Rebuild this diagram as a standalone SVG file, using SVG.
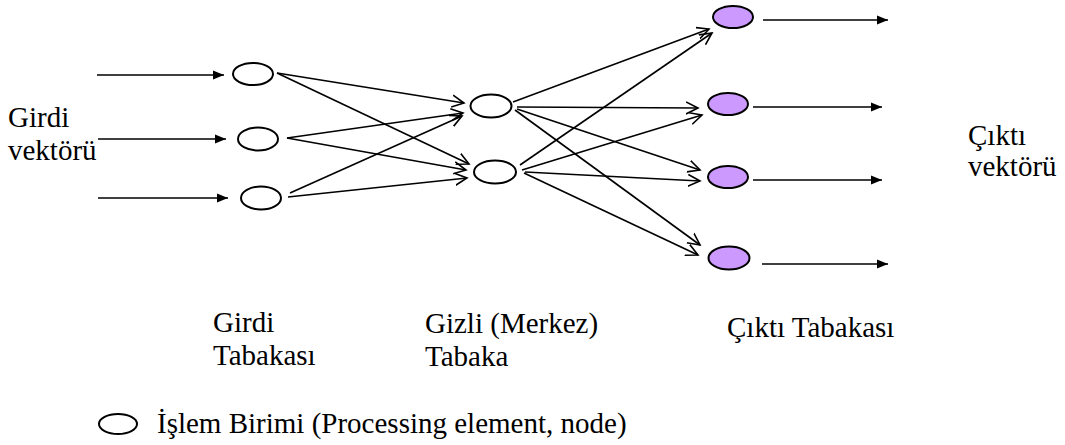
<svg xmlns="http://www.w3.org/2000/svg" width="1065" height="445" viewBox="0 0 1065 445">
<style>
.t{font-family:"Liberation Serif","Times New Roman",serif;font-size:29px;fill:#000}
.n{fill:#fff;stroke:#000;stroke-width:2}
.o{fill:#cc99ff;stroke:#000;stroke-width:2}
.v{stroke:#000;stroke-width:1.6;fill:none;marker-end:url(#fa)}
.e{stroke:#000;stroke-width:1.6;fill:none;marker-end:url(#oa)}
</style>
<defs>
<marker id="fa" markerUnits="userSpaceOnUse" markerWidth="12" markerHeight="10" refX="11" refY="5" orient="auto">
<path d="M0,0.5 L11,5 L0,9.5 z" fill="#000"/>
</marker>
<marker id="oa" markerUnits="userSpaceOnUse" markerWidth="14" markerHeight="14" refX="12" refY="7" orient="auto">
<path d="M0,1 L12,7 L0,13" fill="none" stroke="#000" stroke-width="1.6"/>
</marker>
</defs>
<g id="connectors">
<line class="v" x1="97" y1="75" x2="224" y2="75"/>
<line class="v" x1="98" y1="139" x2="226" y2="139"/>
<line class="v" x1="98" y1="198" x2="228" y2="198"/>
<line class="e" x1="277" y1="73" x2="464" y2="103"/>
<line class="e" x1="277" y1="73" x2="469" y2="164"/>
<line class="e" x1="287" y1="138" x2="463" y2="113"/>
<line class="e" x1="287" y1="138" x2="466" y2="170"/>
<line class="e" x1="290" y1="193" x2="462" y2="116"/>
<line class="e" x1="288" y1="197" x2="467" y2="178"/>
<line class="e" x1="513" y1="102" x2="709" y2="29"/>
<line class="e" x1="517" y1="107" x2="698" y2="108"/>
<line class="e" x1="517" y1="109" x2="700" y2="170"/>
<line class="e" x1="515" y1="110" x2="700" y2="245"/>
<line class="e" x1="520" y1="165" x2="712" y2="33"/>
<line class="e" x1="522" y1="170" x2="702" y2="115"/>
<line class="e" x1="525" y1="172" x2="700" y2="181"/>
<line class="e" x1="524" y1="173" x2="698" y2="255"/>
<line class="v" x1="763" y1="20" x2="888" y2="20"/>
<line class="v" x1="753" y1="107" x2="882" y2="107"/>
<line class="v" x1="753" y1="180" x2="882" y2="180"/>
<line class="v" x1="762" y1="264" x2="888" y2="264"/>
</g>
<g id="in1"><ellipse class="n" cx="253" cy="74" rx="20" ry="11"/></g>
<g id="in2"><ellipse class="n" cx="258" cy="139" rx="20" ry="11.5"/></g>
<g id="in3"><ellipse class="n" cx="261" cy="198" rx="20" ry="11.5"/></g>
<g id="h1"><ellipse class="n" cx="491" cy="106" rx="20.5" ry="11.5"/></g>
<g id="h2"><ellipse class="n" cx="495" cy="172" rx="21" ry="11.5"/></g>
<g id="o1"><ellipse class="o" cx="733" cy="17" rx="20" ry="11"/></g>
<g id="o2"><ellipse class="o" cx="728" cy="104" rx="20" ry="11"/></g>
<g id="o3"><ellipse class="o" cx="728" cy="177" rx="20" ry="11"/></g>
<g id="o4"><ellipse class="o" cx="729" cy="258" rx="20.5" ry="11.5"/></g>
<g id="labels">
<text class="t" x="8" y="127">Girdi</text>
<text class="t" x="8" y="160">vektörü</text>
<text class="t" x="968" y="145">Çıktı</text>
<text class="t" x="968" y="176">vektörü</text>
<text class="t" x="213" y="332">Girdi</text>
<text class="t" x="213" y="365">Tabakası</text>
<text class="t" x="425" y="333">Gizli (Merkez)</text>
<text class="t" x="425" y="366">Tabaka</text>
<text class="t" x="727" y="337">Çıktı Tabakası</text>
</g>
<g id="legend">
<ellipse class="n" cx="118" cy="424" rx="19" ry="10"/>
<text class="t" x="157" y="433">İşlem Birimi (Processing element, node)</text>
</g>
</svg>
